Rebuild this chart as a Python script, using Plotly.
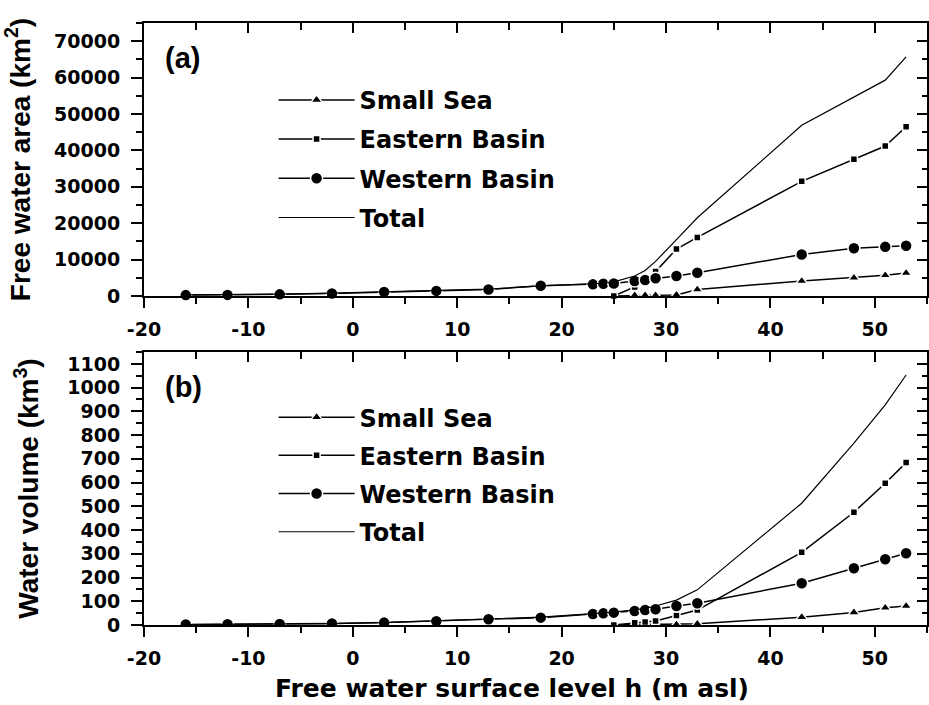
import plotly.graph_objects as go

# ---------------- data ----------------
x_west = [-16, -12, -7, -2, 3, 8, 13, 18, 23, 24, 25, 27, 28, 29, 31, 33, 43, 48, 51, 53]
x_east = [25, 27, 28, 29, 31, 33, 43, 48, 51, 53]
x_small = [25, 27, 28, 29, 31, 33, 43, 48, 51, 53]
x_total = [-16, -12, -7, -2, 3, 8, 13, 18, 23, 24, 25, 27, 28, 29, 31, 33, 43, 48, 51, 53]

# (a) free water area, km2
area_west = [250, 300, 450, 700, 1100, 1400, 1800, 2800, 3200, 3350, 3450, 4100, 4400, 4900, 5500, 6400, 11400, 13100, 13500, 13800]
area_east = [0, 2500, 4000, 6700, 12900, 16100, 31500, 37600, 41200, 46500]
area_small = [0, 200, 200, 200, 300, 1800, 4100, 5000, 5700, 6300]
area_total = [300, 350, 500, 800, 1150, 1500, 1900, 2800, 3300, 3500, 3900, 5500, 7000, 9500, 15500, 21500, 46900, 54600, 59300, 65700]

# (b) water volume, km3
vol_west = [2, 3, 4, 6, 10, 16, 24, 31, 46, 49, 52, 59, 63, 66, 80, 92, 176, 239, 277, 302]
vol_east = [0, 9, 13, 17, 40, 63, 306, 475, 597, 684]
vol_small = [0, 0.5, 1, 1, 2, 5, 33, 53, 73, 80]
vol_total = [2, 3, 4, 6, 10, 17, 25, 33, 48, 51, 54, 64, 70, 80, 105, 148, 513, 766, 927, 1053]

x_tickvals = [-20, -10, 0, 10, 20, 30, 40, 50]
x_ticktext = ["-20", "-10", "0", "10", "20", "30", "40", "50"]
area_tickvals = [0, 10000, 20000, 30000, 40000, 50000, 60000, 70000]
area_ticktext = ["0", "10000", "20000", "30000", "40000", "50000", "60000", "70000"]
vol_tickvals = [0, 100, 200, 300, 400, 500, 600, 700, 800, 900, 1000, 1100]
vol_ticktext = ["0", "100", "200", "300", "400", "500", "600", "700", "800", "900", "1000", "1100"]

series_names = ["Small Sea", "Eastern Basin", "Western Basin", "Total"]

# ---------------- style ----------------
TICKFONT = dict(family="DejaVu Sans", size=19, color="black", weight="bold")
LEGFONT = dict(family="DejaVu Sans", size=24, color="black", weight="bold")
TITLEFONT = dict(family="Liberation Sans", size=28, color="black", weight="bold")

fig = go.Figure()

def add_panel(xa, ya, small, east, west, total, legend, cliponaxis):
    fig.add_trace(go.Scatter(x=x_small, y=small, name=series_names[0], mode="lines+markers",
                             line=dict(color="black", width=1.5),
                             marker=dict(symbol="triangle-up", size=10, color="black",
                                         line=dict(color="white", width=1.5)),
                             xaxis=xa, yaxis=ya, legend=legend, legendgroup=legend + "s",
                             cliponaxis=cliponaxis))
    fig.add_trace(go.Scatter(x=x_east, y=east, name=series_names[1], mode="lines+markers",
                             line=dict(color="black", width=1.5),
                             marker=dict(symbol="square", size=7, color="black",
                                         line=dict(color="white", width=1.5)),
                             xaxis=xa, yaxis=ya, legend=legend, legendgroup=legend + "e",
                             cliponaxis=cliponaxis))
    fig.add_trace(go.Scatter(x=x_west, y=west, name=series_names[2], mode="lines+markers",
                             line=dict(color="black", width=1.5),
                             marker=dict(symbol="circle", size=12, color="black",
                                         line=dict(color="white", width=1.5)),
                             xaxis=xa, yaxis=ya, legend=legend, legendgroup=legend + "w",
                             cliponaxis=cliponaxis))
    fig.add_trace(go.Scatter(x=x_total, y=total, name=series_names[3], mode="lines",
                             line=dict(color="black", width=1.2),
                             xaxis=xa, yaxis=ya, legend=legend, legendgroup=legend + "t",
                             cliponaxis=cliponaxis))

add_panel("x", "y", area_small, area_east, area_west, area_total, "legend", False)
add_panel("x2", "y2", vol_small, vol_east, vol_west, vol_total, "legend2", True)

# dummy traces for mirrored inside-tick axes
fig.add_trace(go.Scatter(x=[None], y=[None], xaxis="x3", yaxis="y3", showlegend=False))
fig.add_trace(go.Scatter(x=[None], y=[None], xaxis="x4", yaxis="y4", showlegend=False))

XR = [-20, 55]
top_dom = [0.5465, 1.0]
bot_dom = [0.0, 0.4535]

def xax(anchor):
    return dict(range=XR, tickmode="array", tickvals=x_tickvals, ticktext=x_ticktext,
                ticks="outside", ticklen=10, tickwidth=2, tickcolor="black",
                minor=dict(ticks="outside", dtick=5, tick0=0, ticklen=6, tickwidth=2, tickcolor="black"),
                showline=True, linecolor="black", linewidth=2, showgrid=False, zeroline=False,
                tickfont=TICKFONT, ticklabelstandoff=5, anchor=anchor)

def yax(anchor, domain, rng, tickvals, ticktext, minor_dtick, title):
    return dict(range=rng, domain=domain, tickmode="array", tickvals=tickvals, ticktext=ticktext,
                ticks="outside", ticklen=11, tickwidth=2, tickcolor="black",
                minor=dict(ticks="outside", dtick=minor_dtick, tick0=0, ticklen=6, tickwidth=2, tickcolor="black"),
                showline=True, linecolor="black", linewidth=2, showgrid=False, zeroline=False,
                tickfont=TICKFONT, ticklabelstandoff=7, anchor=anchor,
                title=dict(text=title, font=TITLEFONT, standoff=20))

def mirror_x(overlay, anchor):
    return dict(range=XR, overlaying=overlay, anchor=anchor, side="top", showticklabels=False,
                tickmode="linear", tick0=0, dtick=10, ticks="inside", ticklen=10, tickwidth=2, tickcolor="black",
                minor=dict(ticks="inside", dtick=5, tick0=0, ticklen=7, tickwidth=2, tickcolor="black"),
                showline=True, linecolor="black", linewidth=2, showgrid=False, zeroline=False)

def mirror_y(overlay, anchor, rng, dtick, minor_dtick):
    return dict(range=rng, overlaying=overlay, anchor=anchor, side="right", showticklabels=False,
                tickmode="linear", tick0=0, dtick=dtick, ticks="inside", ticklen=10, tickwidth=2, tickcolor="black",
                minor=dict(ticks="inside", dtick=minor_dtick, tick0=0, ticklen=5, tickwidth=2, tickcolor="black"),
                showline=True, linecolor="black", linewidth=2, showgrid=False, zeroline=False)

fig.update_layout(
    width=929, height=705,
    margin=dict(l=144, r=2, t=23, b=80),
    paper_bgcolor="white", plot_bgcolor="white",
    xaxis=xax("y"),
    yaxis=yax("x", top_dom, [0, 75000], area_tickvals, area_ticktext, 5000, "Free water area (km<sup>2</sup>)"),
    xaxis2=xax("y2"),
    yaxis2=yax("x2", bot_dom, [0, 1150], vol_tickvals, vol_ticktext, 50, "Water volume (km<sup>3</sup>)"),
    xaxis3=mirror_x("x", "y"),
    yaxis3=mirror_y("y", "x", [0, 75000], 10000, 5000),
    xaxis4=mirror_x("x2", "y2"),
    yaxis4=mirror_y("y2", "x2", [0, 1150], 100, 50),
    legend=dict(x=0.1655, y=0.909, xanchor="left", yanchor="top", bgcolor="rgba(0,0,0,0)",
                font=LEGFONT, itemwidth=76, traceorder="grouped", tracegroupgap=5),
    legend2=dict(x=0.1655, y=0.382, xanchor="left", yanchor="top", bgcolor="rgba(0,0,0,0)",
                 font=LEGFONT, itemwidth=76, traceorder="grouped", tracegroupgap=4),
    annotations=[
        dict(text="(a)", x=0.0243, y=0.942, xref="paper", yref="paper", xanchor="left", yanchor="middle",
             showarrow=False, font=dict(family="Liberation Sans", size=29, color="black", weight="bold")),
        dict(text="(b)", x=0.0243, y=0.396, xref="paper", yref="paper", xanchor="left", yanchor="middle",
             showarrow=False, font=dict(family="Liberation Sans", size=29, color="black", weight="bold")),
        dict(text="Free water surface level h (m asl)", x=0.470, y=-0.1063, xref="paper", yref="paper",
             xanchor="center", yanchor="middle", showarrow=False, font=LEGFONT | dict(size=25)),
    ],
)

fig.write_html("out.html", config={"displayModeBar": False},
               post_script="document.body.style.margin='0px';document.body.style.padding='0px';")
